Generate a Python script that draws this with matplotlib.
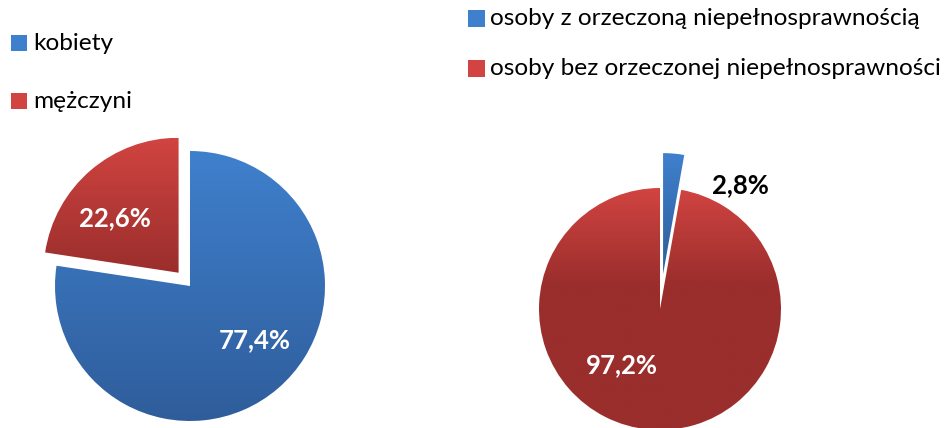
import numpy as np
import matplotlib.pyplot as plt
from matplotlib.patches import Rectangle
from matplotlib.colors import to_rgb

plt.rcParams['font.family'] = ['Lato', 'DejaVu Sans']

W, H = 947, 428

# left chart: gender
gender_labels = ['kobiety', 'mężczyni']
gender_values = [77.4, 22.6]

# right chart: disability certificate
disab_labels = ['osoby z orzeczoną niepełnosprawnością',
                'osoby bez orzeczonej niepełnosprawności']
disab_values = [2.8, 97.2]

blue = ('#3f80cd', '#2f5d9b')
red = ('#d14441', '#9a2e2c')


def fmt(v):
    return '{:.1f}%'.format(v).replace('.', ',')


def shade(ax, wedge, colors, span=1.0):
    # vertical gradient fill clipped to the wedge, like the Excel look
    top, bottom = np.array(to_rgb(colors[0])), np.array(to_rgb(colors[1]))
    wedge.set_facecolor('none')
    bb = wedge.get_path().get_extents()
    t = np.linspace(0, 1, 256)
    te = np.clip(t / span, 0, 1)[:, None, None]
    img = top + (bottom - top) * te
    im = ax.imshow(img, extent=(bb.x0, bb.x1, bb.y0, bb.y1), origin='upper',
                   aspect='auto', zorder=1, interpolation='bilinear')
    im.set_clip_path(wedge)


fig = plt.figure(figsize=(W / 100, H / 100), dpi=100)
ax = fig.add_axes([0, 0, 1, 1])

# left pie
wl, _ = ax.pie(gender_values, center=(190, H - 286), radius=135, startangle=90,
               counterclock=False, explode=[0, 17.5],
               wedgeprops=dict(linewidth=0))
shade(ax, wl[0], blue)
shade(ax, wl[1], red)

# right pie
wr, _ = ax.pie(disab_values, center=(660, H - 309), radius=121, startangle=90,
               counterclock=False, explode=[35, 0],
               wedgeprops=dict(linewidth=0))
shade(ax, wr[0], blue)
shade(ax, wr[1], red, span=0.4)

# value labels
left_pos = [(255, 340), (115, 218)]
for v, (x, y) in zip(gender_values, left_pos):
    ax.text(x, H - y, fmt(v), color='white', fontsize=18.5, fontweight='bold',
            ha='center', va='center', zorder=5)

right_pos = [(740, 185), (622, 365)]
right_col = ['black', 'white']
for v, (x, y), c in zip(disab_values, right_pos, right_col):
    ax.text(x, H - y, fmt(v), color=c, fontsize=18.5, fontweight='bold',
            ha='center', va='center', zorder=5)

# legends
for i, (lab, col) in enumerate(zip(gender_labels, [blue, red])):
    y = 43 + i * 58
    ax.add_patch(Rectangle((11, H - y - 8), 16, 16, color=col[0], lw=0))
    ax.text(33, H - y, lab, fontsize=17.6, va='center', ha='left')

for i, (lab, col) in enumerate(zip(disab_labels, [blue, red])):
    y = 18.5 + i * 50
    ax.add_patch(Rectangle((468, H - y - 8.5), 17, 17, color=col[0], lw=0))
    ax.text(490, H - y, lab, fontsize=17.6, va='center', ha='left')

ax.set_xlim(0, W)
ax.set_ylim(0, H)
ax.set_aspect('equal')
ax.axis('off')

fig.savefig('out.png', dpi=100)
